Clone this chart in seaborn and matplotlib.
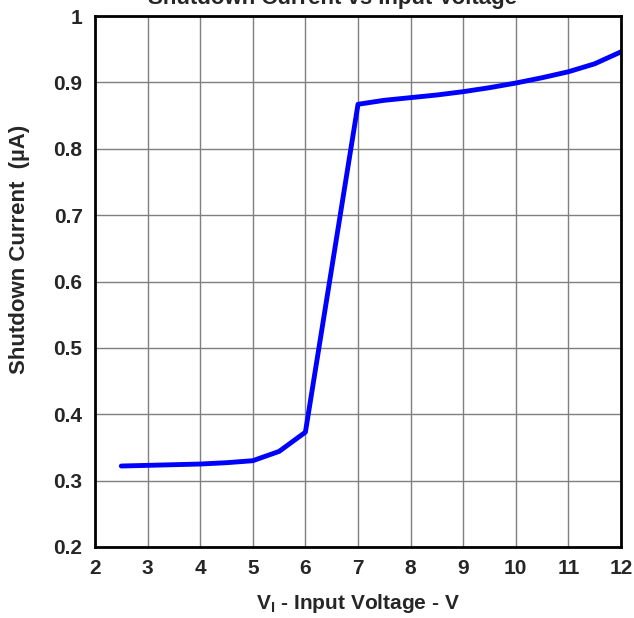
import matplotlib
matplotlib.use("Agg")
import pandas as pd
import seaborn as sns
import matplotlib.pyplot as plt

# valores
vin = [2.5, 3, 3.5, 4, 4.5, 5, 5.5, 6, 7, 7.5, 8, 8.5, 9, 9.5, 10, 10.5, 11, 11.5, 12]
ishdn = [0.322, 0.323, 0.324, 0.325, 0.327, 0.330, 0.344, 0.373, 0.867, 0.873, 0.877,
         0.881, 0.886, 0.892, 0.899, 0.907, 0.916, 0.928, 0.946]
xticks = [2, 3, 4, 5, 6, 7, 8, 9, 10, 11, 12]
yticks = [0.2, 0.3, 0.4, 0.5, 0.6, 0.7, 0.8, 0.9, 1.0]
ylabels = ["0.2", "0.3", "0.4", "0.5", "0.6", "0.7", "0.8", "0.9", "1"]

base = pd.DataFrame({"vin": vin, "i": ishdn})

sns.set_style("white")
plt.rcParams["font.family"] = ["Liberation Sans", "DejaVu Sans"]
plt.rcParams["font.weight"] = "bold"
plt.rcParams["mathtext.fontset"] = "custom"
plt.rcParams["mathtext.bf"] = "Liberation Sans:bold"
plt.rcParams["mathtext.rm"] = "Liberation Sans:bold"

fig = plt.figure(figsize=(6.34, 6.18), dpi=100)
ax = fig.add_axes([95 / 634, 1 - 547 / 618, (621 - 95) / 634, (547 - 16) / 618])

sns.lineplot(data=base, x="vin", y="i", color="#0000ff", linewidth=3.5, ax=ax)

ax.set_xlim(2, 12)
ax.set_ylim(0.2, 1.0)
ax.set_xticks(xticks)
ax.set_xticklabels([str(t) for t in xticks], fontsize=15, fontweight="bold")
ax.set_yticks(yticks)
ax.set_yticklabels(ylabels, fontsize=15, fontweight="bold")
ax.tick_params(length=0, pad=9)
ax.grid(True, color="#7f7f7f", linewidth=1)
for s in ax.spines.values():
    s.set_color("black")
    s.set_linewidth(2)

ax.set_xlabel(r"V$_\mathregular{I}$ - Input Voltage - V", fontsize=15, fontweight="bold", labelpad=10)
ax.set_ylabel("Shutdown Current  (µA)", fontsize=16, fontweight="bold")
ax.yaxis.set_label_coords(-0.124, 0.56)

# título cortado no topo, como no original
fig.text(332 / 634, 1 - 4 / 618, "Shutdown Current vs Input Voltage", ha="center", va="baseline",
         fontsize=16, fontweight="bold")

fig.savefig("out.png", dpi=100)
